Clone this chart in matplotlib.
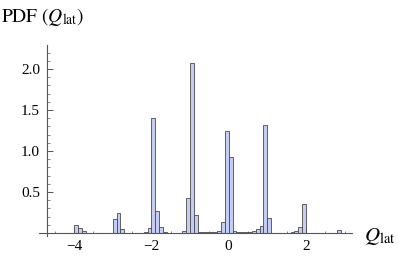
import numpy as np
import matplotlib.pyplot as plt

plt.rcParams['font.family'] = 'Liberation Serif'
plt.rcParams['mathtext.fontset'] = 'stix'

# histogram bins (left edge, width 0.1) and PDF values
bin_left = [-4.6, -4.0, -3.9, -3.8, -3.7, -3.6,
            -3.1, -3.0, -2.9, -2.8, -2.6, -2.5,
            -2.2, -2.1, -2.0, -1.9, -1.8, -1.7,
            -1.3, -1.2, -1.1, -1.0, -0.9, -0.8, -0.7, -0.6, -0.5, -0.4,
            -0.3, -0.2, -0.1, 0.0, 0.1, 0.2, 0.3, 0.4, 0.5,
            0.6, 0.7, 0.8, 0.9, 1.0,
            1.4, 1.5, 1.6, 1.7, 1.8, 1.9,
            2.6, 2.8]
pdf = [0.004, 0.094, 0.057, 0.025, 0.006, 0.004,
       0.005, 0.17, 0.24, 0.05, 0.005, 0.004,
       0.008, 0.06, 1.40, 0.27, 0.07, 0.01,
       0.006, 0.03, 0.43, 2.07, 0.22, 0.015, 0.015, 0.012, 0.01, 0.01,
       0.025, 0.13, 1.25, 0.93, 0.03, 0.01, 0.01, 0.008, 0.01,
       0.025, 0.05, 0.09, 1.32, 0.18,
       0.005, 0.006, 0.01, 0.025, 0.08, 0.35,
       0.004, 0.035]
bin_width = 0.1

xticks = [-4, -2, 0, 2]
yticks = [0.5, 1.0, 1.5, 2.0]

fig = plt.figure(figsize=(3.99, 2.56), dpi=100)
ax = fig.add_axes([0.0965, 0.080, 0.7847, 0.743])

ax.bar(bin_left, pdf, width=bin_width, align='edge',
       color='#c5cdf5', edgecolor='#4a4a4a', linewidth=0.6)

ax.set_xlim(-4.92, 3.18)
ax.set_ylim(-0.03, 2.29)

for s in ['top', 'right']:
    ax.spines[s].set_visible(False)
ax.spines['bottom'].set_position(('data', 0))
ax.spines['left'].set_position(('data', -4.7))
for s in ['bottom', 'left']:
    ax.spines[s].set_color('#555555')
    ax.spines[s].set_linewidth(0.8)

ax.set_xticks(xticks)
ax.set_xticklabels(['\u22124', '\u22122', '0', '2'])
ax.set_xticks(np.arange(-4.5, 3.01, 0.5), minor=True)
ax.set_yticks(yticks)
ax.set_yticklabels(['0.5', '1.0', '1.5', '2.0'])
ax.set_yticks(np.arange(0.1, 2.29, 0.1), minor=True)
ax.tick_params(which='both', direction='in', color='#555555', labelsize=11)
ax.tick_params(which='major', length=4, width=0.7)
ax.tick_params(which='minor', length=2, width=0.5)
ax.tick_params(axis='x', which='minor', length=1.5)
ax.tick_params(axis='x', pad=5)
ax.tick_params(axis='y', pad=5)

fig.text(0.003, 1 - 22 / 256, r'$\mathrm{PDF}\ (Q_{\mathrm{lat}})$',
         fontsize=14, va='baseline', ha='left')
fig.text(364 / 399, 1 - 241 / 256, r'$Q_{\mathrm{lat}}$',
         fontsize=15, va='baseline', ha='left')

fig.savefig('out.png', dpi=100)
